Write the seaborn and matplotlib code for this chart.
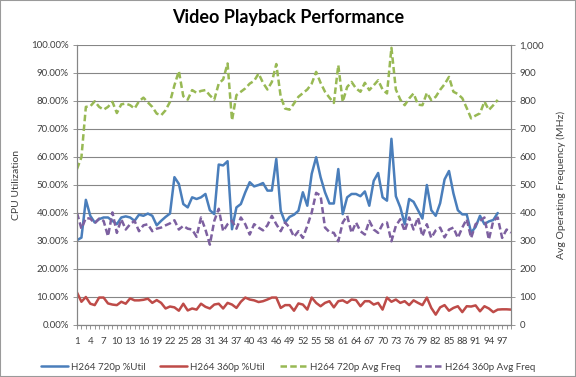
import matplotlib
matplotlib.use("Agg")
import matplotlib.pyplot as plt
import seaborn as sns
from matplotlib.patches import Rectangle
from matplotlib.ticker import FuncFormatter

# sample index on the category axis
samples = list(range(1, 100))
tick_labels = [str(n) for n in range(1, 98, 3)]

# CPU utilisation (%)
util_720p = [30.3, 31.2, 44.7, 39.0, 36.6, 37.8, 38.4, 38.4, 37.2, 36.0, 38.4, 38.8, 38.4, 37.2, 39.4,
             39.0, 39.8, 39.0, 35.6, 37.2, 38.6, 39.8, 52.8, 50.4, 43.2, 42.0, 45.6, 45.0, 45.6, 46.8, 41.0, 39.6,
             57.3, 57.0, 58.5, 34.2, 42.0, 43.2, 47.4, 51.0, 49.5, 50.0, 50.7, 48.0, 48.0, 59.3, 40.8, 36.6,
             38.6, 39.4, 40.8, 47.4, 42.6, 54.0, 59.9, 52.8, 47.4, 43.4, 43.4, 55.7, 39.6, 45.6, 46.8, 46.8,
             46.0, 47.7, 42.6, 51.5, 54.3, 45.6, 44.4, 66.5, 46.0,
             42.0, 36.0, 45.0, 44.0, 41.0, 38.0, 50.0, 41.0, 39.0, 43.5, 52.0, 55.0, 47.0, 41.0, 39.5, 39.5,
             33.0, 35.0, 39.0, 36.0, 37.0, 37.5, 40.0]
util_360p = [11.6, 8.3, 10.0, 7.6, 7.1, 9.8, 9.8, 7.7, 7.3, 7.1, 8.3, 7.6, 9.5, 8.8, 8.8, 9.0, 9.4, 7.9,
             8.9, 7.9, 5.9, 6.6, 6.3, 5.1, 7.6, 5.2, 5.9, 5.5, 7.6, 6.5, 5.9, 7.3, 7.6, 5.9, 7.9, 7.3, 6.1,
             8.3, 9.8, 9.1, 8.8, 8.2, 8.5, 9.1, 9.8, 9.8, 6.1, 7.1, 7.1, 5.1, 7.7, 7.3, 5.5, 9.8, 7.9,
             6.7, 7.9, 8.5, 6.3, 8.5, 8.8, 7.9, 9.1, 8.9, 6.7, 8.5, 8.5, 7.3, 7.9, 5.5, 9.8, 8.3, 9.1,
             7.9, 8.5, 7.1, 8.8, 7.9, 7.1, 9.8, 6.1, 3.7, 6.3, 7.1, 5.1, 6.1, 6.7, 4.6, 6.7, 6.6, 7.0,
             4.9, 6.7, 5.9, 4.6, 5.5, 5.6, 5.6, 5.5]

# average operating frequency (MHz)
freq_720p = [557, 599, 779, 781, 799, 779, 769, 779, 797, 757, 788, 791, 785, 773, 799,
             812, 795, 779, 755, 749, 767, 797, 856, 907, 817, 805, 839, 829, 836, 839, 820,
             805, 862, 877, 934, 731, 821, 833, 845, 862, 872, 898, 865, 841, 868, 932, 815, 773,
             769, 791, 815, 828, 841, 862, 904, 865, 833, 812, 793, 928, 797, 850, 868, 845,
             833, 865, 839, 856, 874, 841, 827, 990, 841, 805, 785, 809, 827, 787, 785, 829, 803,
             815, 840, 860, 886, 833, 825, 810, 775, 738, 748, 756, 798, 768, 785, 804]
freq_360p = [400, 344, 382, 380, 363, 380, 372, 317, 402, 329, 378, 341, 360, 372, 335, 356, 360, 335,
             344, 348, 356, 363, 374, 341, 354, 344, 341, 315, 384, 341, 287, 372, 415, 335, 360, 372, 344,
             384, 360, 323, 360, 348, 338, 356, 390, 360, 335, 366, 348, 315, 335, 311, 354, 402, 472,
             462, 348, 332, 329, 299, 366, 390, 329, 366, 335, 323, 372, 341, 329, 360, 366, 299, 354,
             378, 335, 384, 341, 384, 317, 360, 311, 338, 348, 313, 341, 348, 311, 348, 378, 311, 360,
             372, 384, 305, 372, 384, 311, 341, 330]

sns.set_style("white")
plt.rcParams["font.family"] = ["Lato", "DejaVu Sans"]

grey = "#868686"
text_col = "#404040"

fig = plt.figure(figsize=(5.76, 3.77), dpi=100)
ax = fig.add_axes([77 / 576, 1 - 325 / 377, (511 - 77) / 576, (325 - 45) / 377])
ax2 = ax.twinx()

dash = (0, (2.6, 1.3))
sns.lineplot(x=samples[:len(util_720p)], y=util_720p, ax=ax, color="#4A7EBB", linewidth=1.8,
             label="H264 720p %Util")
sns.lineplot(x=samples[:len(util_360p)], y=util_360p, ax=ax, color="#BE4B48", linewidth=1.8,
             label="H264 360p %Util")
sns.lineplot(x=samples[:len(freq_720p)], y=freq_720p, ax=ax2, color="#98B954", linewidth=1.8,
             linestyle=dash, label="H264 720p Avg Freq")
sns.lineplot(x=samples[:len(freq_360p)], y=freq_360p, ax=ax2, color="#7D60A0", linewidth=1.8,
             linestyle=dash, label="H264 360p Avg Freq")

for a in (ax, ax2):
    leg = a.get_legend()
    if leg is not None:
        leg.remove()

ax.set_xlim(1, 99)
ax.set_ylim(0, 100)
ax2.set_ylim(0, 1000)
ax.set_yticks(range(0, 101, 10))
ax2.set_yticks(range(0, 1001, 100))
ax.yaxis.set_major_formatter(FuncFormatter(lambda v, p: f"{v:.2f}%"))
ax2.yaxis.set_major_formatter(FuncFormatter(lambda v, p: f"{v:,.0f}"))

ax.set_xticks(samples)
ax.set_xticklabels([str(s) if str(s) in tick_labels else "" for s in samples])

ax.yaxis.grid(True, color=grey, linewidth=0.8)
ax.set_axisbelow(True)

for a in (ax, ax2):
    a.spines["top"].set_visible(False)
    for side in ("left", "right", "bottom"):
        a.spines[side].set_color(grey)
        a.spines[side].set_linewidth(0.8)

ax.tick_params(axis="x", direction="out", length=3, width=0.6, color=grey, labelsize=7,
               labelcolor=text_col, pad=6, bottom=True)
ax.tick_params(axis="y", direction="out", length=3, width=0.6, color=grey, labelsize=7,
               labelcolor=text_col, pad=3, left=True)
ax2.tick_params(axis="y", direction="out", length=3, width=0.6, color=grey, labelsize=7,
                labelcolor=text_col, pad=3, right=True)

ax.set_xlabel("")
ax.set_ylabel("CPU Utilization", fontsize=7.5, color=text_col)
ax.yaxis.set_label_coords(-0.13, 0.5)
ax2.set_ylabel("Avg Operating Frequency (MHz)", fontsize=7.5, color=text_col)
ax2.yaxis.set_label_coords(1.105, 0.5)

fig.text(0.5, 1 - 18 / 377, "Video Playback Performance", ha="center", va="center",
         fontsize=13, fontweight="bold", color="black")

handles = ax.get_lines() + ax2.get_lines()
labels = [h.get_label() for h in handles]
fig.legend(handles, labels, loc="center", bbox_to_anchor=(0.5, 1 - 367 / 377), ncol=4,
           frameon=False, fontsize=7, handlelength=2.8, handletextpad=0.3, columnspacing=1.5,
           labelcolor=text_col)

fig.patches.append(Rectangle((0, 0), 1, 1, transform=fig.transFigure, fill=False,
                             edgecolor="#9a9a9a", linewidth=1.5))

fig.savefig("out.png", dpi=100)
